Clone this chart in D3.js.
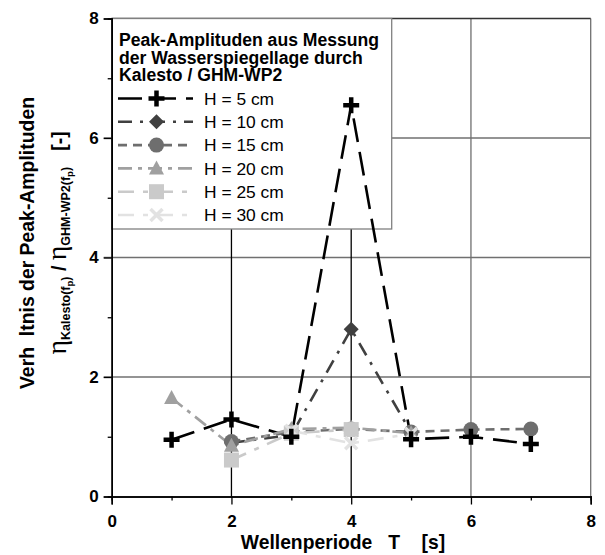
<!DOCTYPE html>
<html><head><meta charset="utf-8">
<script src="https://cdn.jsdelivr.net/npm/d3@7"></script>
<style>body{margin:0;background:#fff}svg{display:block}</style>
</head><body>
<svg id="c" width="605" height="555"></svg>
<script>
const xTicks = [0, 2, 4, 6, 8];
const yTicks = [0, 2, 4, 6, 8];
const minorTicks = [1, 3, 5, 7];
const seriesNames = ["H = 5 cm", "H = 10 cm", "H = 15 cm", "H = 20 cm", "H = 25 cm", "H = 30 cm"];
const h5  = [[1,0.95],[2,1.29],[3,1.0],[4,6.55],[5,0.96],[6,1.0],[7,0.88]];
const h10 = [[2,0.9],[3,1.03],[4,2.8],[5,1.07]];
const h15 = [[2,0.92],[3,1.08],[4,1.13],[5,1.08],[6,1.12],[7,1.13]];
const h20 = [[1,1.65],[2,0.85],[3,1.13],[4,1.15],[5,1.06]];
const h25 = [[2,0.61],[3,1.06],[4,1.12]];
const h30 = [[3,1.1],[4,0.89],[5,1.05]];
const legendTitle = ["Peak-Amplituden aus Messung", "der Wasserspiegellage durch", "Kalesto / GHM-WP2"];
const xTitle = "Wellenperiode   T    [s]";
const yTitle1 = "Verh  ltnis der Peak-Amplituden";

const data = [h5, h10, h15, h20, h25, h30];
const colors = ["#000000", "#404040", "#6e6e6e", "#a0a0a0", "#cacaca", "#e2e2e2"];
const dashes = ["24,10", "14,8,3,8", "9,6", "14,6,4,6", "16,9,5,9", "16,9,5,9"];
const shapes = ["plus", "diamond", "circle", "triangle", "square", "cross"];

const svg = d3.select("#c");
const L = 111.7, R = 590.7, T = 18.5, B = 496.5;
const x = d3.scaleLinear().domain([0, 8]).range([L, R]);
const y = d3.scaleLinear().domain([0, 8]).range([B, T]);
const fontT = "'Liberation Sans', Arial, sans-serif";

// grid
const g = svg.append("g");
yTicks.filter(v => v > 0 && v < 8).forEach(v => {
  g.append("line").attr("x1", L - 8).attr("x2", R).attr("y1", y(v)).attr("y2", y(v))
    .attr("stroke", "#707070").attr("stroke-width", 1.3);
});
xTicks.filter(v => v > 0).forEach(v => {
  g.append("line").attr("x1", x(v)).attr("x2", x(v)).attr("y1", T).attr("y2", B)
    .attr("stroke", v <= 4 ? "#000" : "#707070").attr("stroke-width", 1.3);
});
g.append("line").attr("x1", L).attr("x2", R).attr("y1", T).attr("y2", T).attr("stroke", "#333").attr("stroke-width", 1.5);

function marker(sel, shape, color, cx, cy) {
  const gg = sel.append("g").attr("transform", `translate(${cx},${cy})`);
  if (shape === "plus") {
    gg.append("path").attr("d", "M-8,0H8M0,-8V8").attr("stroke", color).attr("stroke-width", 4.5);
  } else if (shape === "diamond") {
    gg.append("path").attr("d", "M0,-7.5L7.5,0L0,7.5L-7.5,0Z").attr("fill", color);
  } else if (shape === "circle") {
    gg.append("circle").attr("r", 7.5).attr("fill", color);
  } else if (shape === "triangle") {
    gg.append("path").attr("d", "M0,-8L7.5,6L-7.5,6Z").attr("fill", color);
  } else if (shape === "square") {
    gg.append("rect").attr("x", -7.5).attr("y", -7.5).attr("width", 15).attr("height", 15).attr("fill", color);
  } else if (shape === "cross") {
    gg.append("path").attr("d", "M-6,-6L6,6M6,-6L-6,6").attr("stroke", color).attr("stroke-width", 3.5);
  }
}

// legend (drawn beneath the data)
const lg = svg.append("g");
lg.append("rect").attr("x", L).attr("y", T).attr("width", 280).attr("height", 210.5)
  .attr("fill", "#fff").attr("stroke", "#808080").attr("stroke-width", 1.3);
legendTitle.forEach((t, i) => {
  lg.append("text").attr("x", 119).attr("y", 46 + i * 17.6).text(t)
    .attr("font-family", fontT).attr("font-weight", "bold").attr("font-size", 17.6);
});
seriesNames.forEach((n, i) => {
  const cy = 98.5 + i * 23.3;
  lg.append("line").attr("x1", 118).attr("x2", 193).attr("y1", cy).attr("y2", cy)
    .attr("stroke", colors[i]).attr("stroke-width", 2.6).attr("stroke-dasharray", dashes[i]);
  marker(lg, shapes[i], colors[i], 156.5, cy);
  lg.append("text").attr("x", 204).attr("y", cy + 6.2).text(n)
    .attr("font-family", fontT).attr("font-size", 17.4);
});

// axes
svg.append("g").attr("transform", `translate(0,${B})`)
  .call(d3.axisBottom(x).tickValues(xTicks).tickSize(8).tickPadding(10).tickFormat(d3.format("d")));
svg.append("g").attr("transform", `translate(0,${B})`)
  .call(d3.axisBottom(x).tickValues(minorTicks).tickSize(4).tickFormat(""));
svg.append("g").attr("transform", `translate(${L},0)`)
  .call(d3.axisLeft(y).tickValues(yTicks).tickSize(8).tickPadding(5).tickFormat(d3.format("d")));
svg.append("g").attr("transform", `translate(${L},0)`)
  .call(d3.axisLeft(y).tickValues(minorTicks).tickSize(4).tickFormat(""));
svg.selectAll(".domain").attr("stroke", "#000").attr("stroke-width", 1.5);
svg.selectAll(".tick line").attr("stroke", "#000").attr("stroke-width", 1.3);
svg.selectAll(".tick text").attr("font-family", fontT).attr("font-weight", "bold").attr("font-size", 17).attr("fill", "#000");

// series lines
const line = d3.line().x(d => x(d[0])).y(d => y(d[1]));
data.forEach((s, i) => {
  svg.append("path").datum(s).attr("d", line).attr("fill", "none")
    .attr("stroke", colors[i]).attr("stroke-width", 2.6).attr("stroke-dasharray", dashes[i]);
});
const order = [1, 2, 3, 4, 5, 0];
order.forEach(i => {
  data[i].forEach(d => marker(svg, shapes[i], colors[i], x(d[0]), y(d[1])));
});

// axis titles
svg.append("text").attr("x", 343).attr("y", 548.5).attr("text-anchor", "middle").text(xTitle)
  .attr("font-family", fontT).attr("font-weight", "bold").attr("font-size", 19.3)
  .style("white-space", "pre");
svg.append("text").attr("transform", "translate(34,243) rotate(-90)").attr("text-anchor", "middle")
  .text(yTitle1).attr("font-family", fontT).attr("font-weight", "bold").attr("font-size", 19.4)
  .style("white-space", "pre");

const t2 = svg.append("text").attr("transform", "translate(66,243) rotate(-90)").attr("text-anchor", "middle")
  .attr("font-family", fontT).attr("font-weight", "bold").style("white-space", "pre");
const parts = [
  ["η", 28, 0, "normal", "'Liberation Serif', serif"],
  ["Kalesto(f", 12.5, 4, "bold"],
  ["p", 9.5, 3, "bold"],
  [")", 12.5, -3, "bold"],
  [" / ", 19.4, -4, "bold"],
  ["η", 28, 0, "normal", "'Liberation Serif', serif"],
  ["GHM-WP2(f", 12.5, 4, "bold"],
  ["p", 9.5, 3, "bold"],
  [")", 12.5, -3, "bold"],
  ["   [-]", 19.4, -4, "bold"]
];
parts.forEach(p => {
  const ts = t2.append("tspan").text(p[0]).attr("font-size", p[1]).attr("dy", p[2]).attr("font-weight", p[3]);
  if (p[4]) ts.attr("font-family", p[4]);
});
</script>
</body></html>
